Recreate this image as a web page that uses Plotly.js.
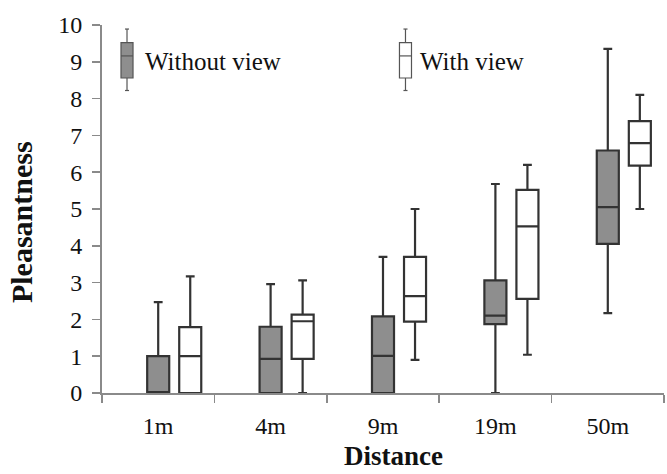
<!DOCTYPE html>
<html>
<head>
<meta charset="utf-8">
<script src="https://cdn.plot.ly/plotly-3.0.1.min.js"></script>
<style>html,body{margin:0;padding:0;background:#fff;}#chart{width:667px;height:474px;}</style>
</head>
<body>
<div id="chart"></div>
<script>
// Data
const distances = ["1m", "4m", "9m", "19m", "50m"];
const withoutLower  = [0, 0, 0, 0, 2.17];
const withoutQ1     = [0, 0, 0, 1.87, 4.05];
const withoutMedian = [0, 0.93, 1.01, 2.1, 5.05];
const withoutQ3     = [1.0, 1.8, 2.08, 3.06, 6.59];
const withoutUpper  = [2.47, 2.96, 3.7, 5.68, 9.35];

const withLower  = [0, 0, 0.9, 1.04, 5.0];
const withQ1     = [0, 0.93, 1.94, 2.56, 6.18];
const withMedian = [1.0, 1.95, 2.63, 4.53, 6.79];
const withQ3     = [1.79, 2.13, 3.7, 5.52, 7.39];
const withUpper  = [3.17, 3.06, 5.0, 6.2, 8.1];

const seriesNames = ["Without view", "With view"];
const yTicks = [0,1,2,3,4,5,6,7,8,9,10];
const xTitle = "Distance";
const yTitle = "Pleasantness";

const serif = "Liberation Serif, Times New Roman, serif";
const lineCol = "#333333";
const grayFill = "#8e8e8e";
const axisCol = "#8a8a8a";

const traces = [
  {
    type: "box", name: seriesNames[0], x: distances, xaxis: "x", yaxis: "y",
    q1: withoutQ1, median: withoutMedian, q3: withoutQ3,
    lowerfence: withoutLower, upperfence: withoutUpper,
    fillcolor: grayFill, line: {color: lineCol, width: 2.2},
    width: 0.196, whiskerwidth: 0.4, boxpoints: false, hoverinfo: "skip"
  },
  {
    type: "box", name: seriesNames[1], x: distances, xaxis: "x2", yaxis: "y",
    q1: withQ1, median: withMedian, q3: withQ3,
    lowerfence: withLower, upperfence: withUpper,
    fillcolor: "#ffffff", line: {color: lineCol, width: 2.2},
    width: 0.196, whiskerwidth: 0.4, boxpoints: false, hoverinfo: "skip"
  }
];

// Legend glyphs (paper coordinates)
function legendGlyph(cx, fill) {
  const hw = 0.0107, cap = 0.0036;
  const L = {color: "#555", width: 1.2};
  return [
    {type: "line", xref: "paper", yref: "paper", x0: cx, x1: cx, y0: 0.822, y1: 0.989, line: L},
    {type: "line", xref: "paper", yref: "paper", x0: cx-cap, x1: cx+cap, y0: 0.989, y1: 0.989, line: L},
    {type: "line", xref: "paper", yref: "paper", x0: cx-cap, x1: cx+cap, y0: 0.822, y1: 0.822, line: L},
    {type: "rect", xref: "paper", yref: "paper", x0: cx-hw, x1: cx+hw, y0: 0.856, y1: 0.952, fillcolor: fill, line: L},
    {type: "line", xref: "paper", yref: "paper", x0: cx-hw, x1: cx+hw, y0: 0.916, y1: 0.916, line: L}
  ];
}

const layout = {
  width: 667, height: 474,
  margin: {l: 102, r: 3, t: 25, b: 81},
  paper_bgcolor: "#fff", plot_bgcolor: "#fff",
  showlegend: false,
  font: {family: serif, color: "#111", size: 24},
  xaxis: {
    type: "category", categoryarray: distances, categoryorder: "array",
    range: [-0.5, 4.5], tickson: "boundaries",
    ticks: "outside", ticklen: 8, tickwidth: 1.5, tickcolor: axisCol,
    showline: true, linecolor: axisCol, linewidth: 2,
    showgrid: false, zeroline: false,
    tickfont: {family: serif, size: 24, color: "#111"},
    ticklabelstandoff: 10
  },
  xaxis2: {
    type: "category", categoryarray: distances, categoryorder: "array",
    overlaying: "x", range: [-0.5 - 0.285, 4.5 - 0.285], visible: false
  },
  yaxis: {
    range: [0, 10], tickvals: yTicks, ticktext: yTicks.map(String),
    ticks: "outside", ticklen: 8, tickwidth: 1.5, tickcolor: axisCol,
    showline: true, linecolor: axisCol, linewidth: 2,
    showgrid: false, zeroline: false,
    tickfont: {family: serif, size: 24, color: "#111"},
    ticklabelstandoff: 5
  },
  shapes: [].concat(legendGlyph(0.0445, grayFill), legendGlyph(0.540, "#ffffff")),
  annotations: [
    {xref: "paper", yref: "paper", x: 0.073, y: 0.902, xanchor: "left", yanchor: "middle",
     text: seriesNames[0], showarrow: false, font: {family: serif, size: 25, color: "#111"}},
    {xref: "paper", yref: "paper", x: 0.562, y: 0.902, xanchor: "left", yanchor: "middle",
     text: seriesNames[1], showarrow: false, font: {family: serif, size: 25, color: "#111"}},
    {xref: "paper", yref: "paper", x: 0.518, y: -0.170, xanchor: "center", yanchor: "middle",
     text: "<b>" + xTitle + "</b>", showarrow: false, font: {family: serif, size: 27, color: "#111"}},
    {xref: "paper", yref: "paper", x: -0.142, y: 0.465, xanchor: "center", yanchor: "middle",
     textangle: -90, text: "<b>" + yTitle + "</b>", showarrow: false,
     font: {family: serif, size: 30, color: "#111"}}
  ]
};

Plotly.newPlot("chart", traces, layout, {staticPlot: true, displayModeBar: false});
</script>
</body>
</html>
